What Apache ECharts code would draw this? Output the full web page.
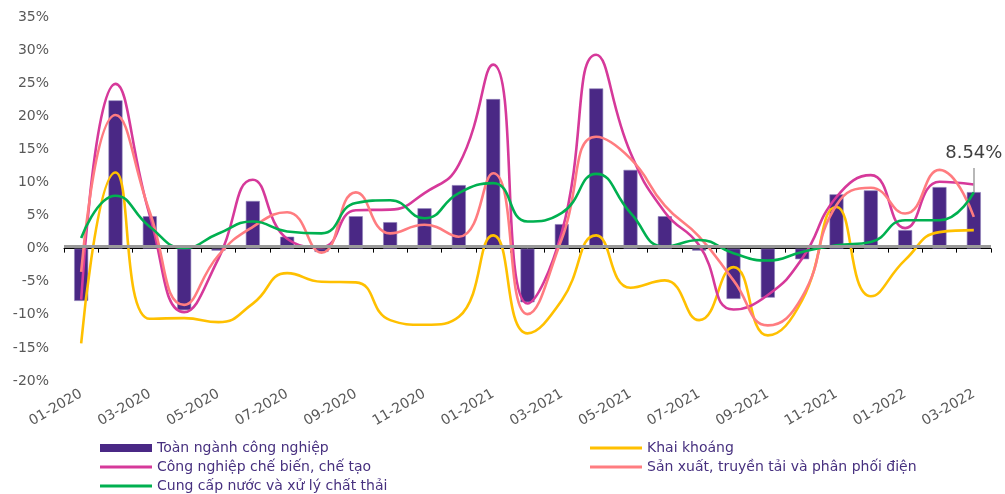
<!DOCTYPE html>
<html>
<head>
<meta charset="utf-8">
<title>Tăng trưởng IIP</title>
<script src="https://cdn.jsdelivr.net/npm/echarts@6/dist/echarts.min.js"></script>
<style>
  html, body { margin: 0; padding: 0; background: #ffffff; }
  #chart { width: 1005px; height: 494px; }
</style>
</head>
<body>
<div id="chart"></div>
<script>
// Monthly categories, 01-2020 .. 03-2022
const categories = [
  '01-2020', '02-2020', '03-2020', '04-2020', '05-2020', '06-2020', '07-2020', '08-2020', '09-2020',
  '10-2020', '11-2020', '12-2020', '01-2021', '02-2021', '03-2021', '04-2021', '05-2021', '06-2021',
  '07-2021', '08-2021', '09-2021', '10-2021', '11-2021', '12-2021', '01-2022', '02-2022', '03-2022'
];

// Year-over-year growth, %
const totalIndustry = [
  -7.9, 22.4, 4.9, -9.3, -0.3, 7.2, 1.8, -0.5, 4.9,
  4.0, 6.1, 9.6, 22.6, -8.1, 3.7, 24.2, 11.9, 4.9,
  -0.3, -7.6, -7.4, -1.6, 8.2, 8.8, 2.8, 9.3, 8.54
];
const mining = [
  -14.3, 11.5, -10.6, -10.5, -11.1, -8.3, -3.7, -5.0, -5.1,
  -10.8, -11.5, -10.3, 2.0, -12.8, -7.8, 2.0, -5.9, -4.8,
  -10.8, -2.8, -13.1, -7.8, 6.3, -7.2, -1.7, 2.5, 2.8
];
const manufacturing = [
  -7.7, 24.9, 5.0, -9.6, -1.5, 10.4, 1.5, 0.2, 5.8,
  5.9, 8.4, 12.7, 27.8, -8.3, 2.5, 29.3, 14.5, 5.5,
  0.5, -9.2, -7.0, -1.5, 7.8, 11.1, 3.1, 10.1, 9.7
];
const electricity = [
  -3.5, 20.2, 5.5, -8.5, -1.0, 3.3, 5.5, -0.6, 8.5,
  2.3, 3.6, 1.8, 11.4, -9.9, 1.5, 16.9, 13.6, 6.5,
  1.8, -4.8, -11.6, -7.3, 6.6, 9.2, 5.3, 11.9, 4.8
];
const waterSupply = [
  1.6, 8.0, 3.3, 0.1, 2.3, 4.1, 2.6, 2.3, 6.9,
  7.3, 4.6, 8.4, 9.9, 4.1, 5.4, 11.3, 5.4, 0.3,
  1.3, -0.7, -1.8, -0.5, 0.5, 1.0, 4.3, 4.3, 8.5
];

const seriesNames = [
  'Toàn ngành công nghiệp',
  'Khai khoáng',
  'Công nghiệp chế biến, chế tạo',
  'Sản xuất, truyền tải và phân phối điện',
  'Cung cấp nước và xử lý chất thải'
];

const BAR_COLOR = '#4a2885';
const FONT = '"DejaVu Sans", Verdana, sans-serif';
const lastIdx = totalIndustry.length - 1;
const lastValue = totalIndustry[lastIdx];

const chart = echarts.init(document.getElementById('chart'), null, { renderer: 'canvas' });

function legendAt(name, left, top, iconH, borderColor) {
  return {
    data: [name],
    left: left,
    top: top,
    orient: 'horizontal',
    icon: 'rect',
    itemWidth: 52,
    itemHeight: iconH,
    itemGap: 0,
    padding: 0,
    selectedMode: false,
    itemStyle: borderColor ? { borderColor: borderColor, borderWidth: 0 } : { borderWidth: 0 },
    lineStyle: { width: 0 },
    textStyle: { fontFamily: FONT, fontSize: 14, color: '#47307f' }
  };
}

function smoothLine(name, data, color) {
  return {
    name: name,
    type: 'line',
    data: data,
    smooth: 0.5,
    symbol: 'none',
    color: color,
    lineStyle: { color: color, width: 2.6 },
    itemStyle: { color: color },
    silent: true,
    z: 3
  };
}

const option = {
  animation: false,
  backgroundColor: '#ffffff',
  grid: {
    left: 64,
    right: 14,
    top: 17,
    height: 364,
    outerBoundsMode: 'none',
    containLabel: false
  },
  legend: [
    legendAt(seriesNames[0], 100, 441, 8, BAR_COLOR),
    legendAt(seriesNames[1], 590, 441, 3),
    legendAt(seriesNames[2], 100, 460, 3),
    legendAt(seriesNames[3], 590, 460, 3),
    legendAt(seriesNames[4], 100, 479, 3)
  ],
  xAxis: [
    {
      type: 'category',
      data: categories,
      boundaryGap: true,
      position: 'bottom',
      axisLine: { show: false, onZero: false },
      axisTick: { show: false },
      axisLabel: {
        interval: 1,
        rotate: 30,
        margin: 12,
        fontFamily: FONT,
        fontSize: 14,
        color: '#595959'
      },
      splitLine: { show: false }
    },
    {
      type: 'category',
      data: categories,
      boundaryGap: true,
      position: 'bottom',
      axisLine: { show: true, onZero: true, lineStyle: { color: '#000000', width: 1 } },
      axisTick: { show: true, interval: 0, length: 4, inside: false, lineStyle: { color: '#000000', width: 1 } },
      axisLabel: { show: false },
      splitLine: { show: false }
    }
  ],
  yAxis: {
    type: 'value',
    min: -20,
    max: 35,
    interval: 5,
    axisLine: { show: false },
    axisTick: { show: false },
    splitLine: { show: false },
    axisLabel: {
      formatter: '{value}%',
      margin: 15,
      fontFamily: FONT,
      fontSize: 14,
      color: '#595959'
    }
  },
  series: [
    // grey band just above the zero line, kept beneath the bars
    {
      name: 'zero-band',
      type: 'line',
      data: [],
      silent: true,
      z: 1,
      markLine: {
        silent: true,
        symbol: 'none',
        animation: false,
        label: { show: false },
        lineStyle: { color: '#9a9a9a', width: 3, type: 'solid' },
        data: [{ yAxis: 0.38 }]
      }
    },
    {
      name: seriesNames[0],
      type: 'bar',
      data: totalIndustry,
      barWidth: 14,
      color: BAR_COLOR,
      itemStyle: { color: BAR_COLOR, borderColor: '#8f82b8', borderWidth: 0.6 },
      silent: true,
      z: 2,
      markLine: {
        silent: true,
        symbol: 'none',
        animation: false,
        lineStyle: { color: '#a6a6a6', width: 1.6, type: 'solid' },
        label: {
          show: true,
          position: 'end',
          distance: 6,
          fontFamily: FONT,
          fontSize: 18,
          color: '#404040',
          formatter: () => lastValue.toFixed(2) + '%'
        },
        data: [
          [
            { coord: [lastIdx, lastValue] },
            { coord: [lastIdx, 12.2] }
          ]
        ]
      }
    },
    smoothLine(seriesNames[1], mining, '#ffc000'),
    smoothLine(seriesNames[2], manufacturing, '#d6399a'),
    smoothLine(seriesNames[3], electricity, '#ff7c80'),
    smoothLine(seriesNames[4], waterSupply, '#00b050')
  ]
};

chart.setOption(option);
</script>
</body>
</html>
